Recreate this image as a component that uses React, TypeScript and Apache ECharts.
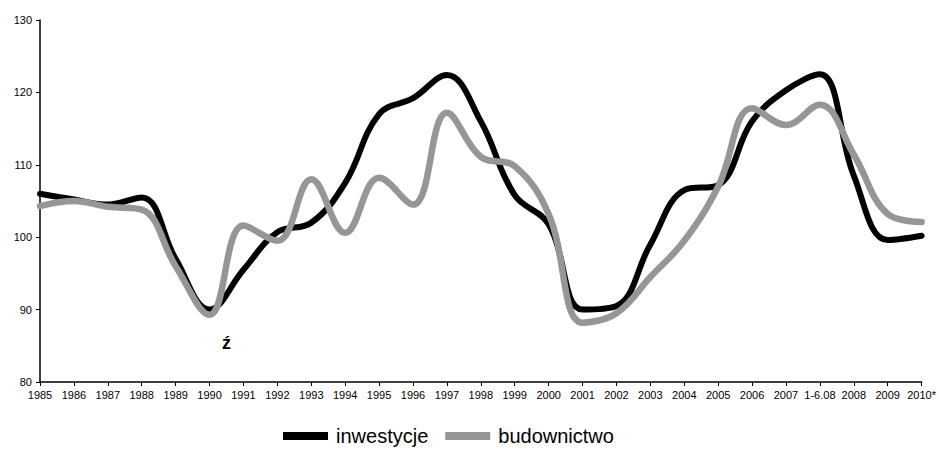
import React, { useEffect, useRef } from "react";
import * as echarts from "echarts";

const categories = [
  "1985", "1986", "1987", "1988", "1989", "1990", "1991", "1992", "1993",
  "1994", "1995", "1996", "1997", "1998", "1999", "2000", "2001", "2002",
  "2003", "2004", "2005", "2006", "2007", "1-6.08", "2008", "2009", "2010*",
];

const inwestycje = [
  106, 105.2, 104.5, 105.5, 97, 90, 95.5, 100.7, 102, 107.5, 117, 119.2,
  122.4, 116, 105.8, 101.8, 90, 90.5, 99, 106.5, 107.2, 116, 120.3, 122.5,
  108.5, 99.6, 100.2,
];

const budownictwo = [
  104.3, 105, 104.2, 103.8, 96, 89.3, 101.6, 99.5, 108, 100.6, 108.2, 104.5,
  117.2, 111.1, 109.8, 103.2, 88.2, 89.5, 94.5, 99.5, 107, 117.8, 115.5, 118.3,
  111.4, 103.2, 102.1,
];

const yTicks = { min: 80, max: 130, interval: 10 };

export default function App() {
  const ref = useRef<HTMLDivElement>(null);

  useEffect(() => {
    if (!ref.current) return;
    const chart = echarts.init(ref.current, null, { renderer: "svg" });
    chart.setOption({
      animation: false,
      backgroundColor: "#ffffff",
      textStyle: { fontFamily: "Liberation Sans, Arial, sans-serif" },
      grid: { left: 40, right: 17, top: 20, bottom: 67, containLabel: false },
      legend: {
        left: 283,
        top: 426,
        padding: 0,
        itemWidth: 45,
        itemHeight: 8,
        itemGap: 17,
        icon: "rect",
        textStyle: {
          fontSize: 20,
          color: "#000",
          padding: [0, 0, 0, 3],
          fontFamily: "Liberation Sans, Arial, sans-serif",
        },
        data: ["inwestycje", "budownictwo"],
      },
      xAxis: {
        type: "category",
        data: categories,
        boundaryGap: false,
        axisLine: { lineStyle: { color: "#000", width: 1.5 } },
        axisTick: { show: true, length: 4, lineStyle: { color: "#000" }, interval: 0 },
        axisLabel: { interval: 0, color: "#000", fontSize: 11, margin: 7 },
      },
      yAxis: {
        type: "value",
        min: yTicks.min,
        max: yTicks.max,
        interval: yTicks.interval,
        splitLine: { show: false },
        axisLine: { show: true, lineStyle: { color: "#000", width: 1.5 } },
        axisTick: { show: true, length: 4, lineStyle: { color: "#000" } },
        axisLabel: { color: "#000", fontSize: 11, margin: 8 },
      },
      series: [
        {
          name: "inwestycje",
          type: "line",
          data: inwestycje,
          smooth: 0.4,
          showSymbol: false,
          symbol: "none",
          color: "#000000",
          lineStyle: { width: 6, color: "#000000", cap: "round", join: "round" },
          z: 2,
        },
        {
          name: "budownictwo",
          type: "line",
          data: budownictwo,
          smooth: 0.4,
          showSymbol: false,
          symbol: "none",
          color: "#969696",
          lineStyle: { width: 6.5, color: "#969696", cap: "round", join: "round" },
          z: 3,
        },
      ],
      graphic: [
        {
          type: "text",
          left: 222,
          top: 334,
          style: {
            text: "ź",
            fontSize: 18,
            fontWeight: "bold",
            fill: "#000",
            fontFamily: "Liberation Sans, Arial, sans-serif",
          },
        },
      ],
    });
    return () => chart.dispose();
  }, []);

  return (
    <div
      ref={ref}
      style={{ position: "fixed", left: 0, top: 0, width: 939, height: 449 }}
    />
  );
}
